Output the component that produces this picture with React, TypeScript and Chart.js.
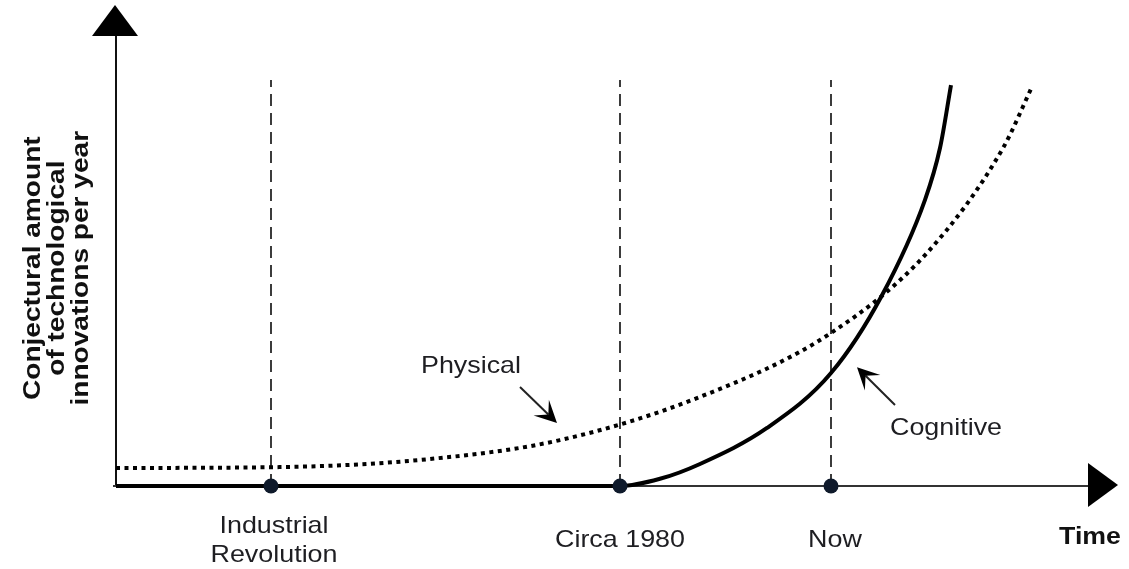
import React, { useEffect, useRef } from "react";
import { Chart, registerables } from "chart.js";

Chart.register(...registerables);

// ---- data (abstract units: x 0..100 = time, y 0..100 = innovations) ----
const milestoneLabels: string[][] = [["Industrial", "Revolution"], ["Circa 1980"], ["Now"]];
const milestoneX: number[] = [15.5, 50.4, 71.5];
const guideTop = 90.2;

const physicalX: number[] = [0, 16.4, 31.4, 44.4, 58.4, 71.5, 81.1, 88.7, 91.6];
const physicalY: number[] = [4.0, 4.2, 6.0, 10.2, 19.8, 34.0, 51.8, 75.1, 88.7];

const cognitiveX: number[] = [0, 50.4, 54.4, 58.4, 65.1, 71.5, 76.6, 80.9, 82.4, 83.5];
const cognitiveY: number[] = [0, 0, 1.6, 4.9, 12.9, 25.1, 42.4, 63.6, 75.1, 89.1];

const seriesNames: string[] = ["Physical", "Cognitive"];
const seriesLabelPos: number[][] = [[35.5, 25.2], [83.0, 11.3]];
const seriesArrowFrom: number[][] = [[40.4, 22.0], [77.9, 18.0]];
const seriesArrowTo: number[][] = [[44.1, 14.0], [74.1, 26.4]];

const xTitle = "Time";
const yTitleLines: string[] = ["Conjectural amount", "of technological", "innovations per year"];

const REG_FONT = '24px "Liberation Sans", Arial, sans-serif';
const BOLD_FONT = 'bold 24px "Liberation Sans", Arial, sans-serif';

function stretchText(ctx: CanvasRenderingContext2D, text: string, x: number, y: number, sx: number, rot = 0) {
  ctx.save();
  ctx.translate(x, y);
  if (rot) ctx.rotate(rot);
  ctx.scale(sx, 1);
  ctx.fillText(text, 0, 0);
  ctx.restore();
}

function arrowHead(ctx: CanvasRenderingContext2D, tx: number, ty: number, ang: number, len: number, half: number, notch: number) {
  ctx.save();
  ctx.translate(tx, ty);
  ctx.rotate(ang);
  ctx.beginPath();
  ctx.moveTo(0, 0);
  ctx.lineTo(-len, -half);
  ctx.lineTo(-len * notch, 0);
  ctx.lineTo(-len, half);
  ctx.closePath();
  ctx.fill();
  ctx.restore();
}

const decorPlugin = {
  id: "decor",
  beforeDatasetsDraw(chart: any) {
    const { ctx, chartArea } = chart;
    const { left, right, top, bottom } = chartArea;
    ctx.save();
    ctx.fillStyle = "#000";
    // y axis
    ctx.strokeStyle = "#111";
    ctx.lineWidth = 2;
    ctx.beginPath();
    ctx.moveTo(left, bottom + 1);
    ctx.lineTo(left, top);
    ctx.stroke();
    arrowHead(ctx, left - 1, top - 31, -Math.PI / 2, 31, 23, 1);
    // x axis
    ctx.strokeStyle = "#333";
    ctx.lineWidth = 2.2;
    ctx.beginPath();
    ctx.moveTo(left - 3, bottom);
    ctx.lineTo(right - 28, bottom);
    ctx.stroke();
    arrowHead(ctx, right + 2, bottom - 1, 0, 30, 22, 1);
    ctx.restore();
  },
  afterDatasetsDraw(chart: any) {
    const { ctx } = chart;
    const xs = chart.scales.x;
    const ys = chart.scales.y;
    const X = (v: number) => xs.getPixelForValue(v);
    const Y = (v: number) => ys.getPixelForValue(v);
    ctx.save();
    ctx.fillStyle = "#1e1e22";
    ctx.textAlign = "center";
    ctx.textBaseline = "alphabetic";
    // milestone labels
    ctx.font = REG_FONT;
    milestoneLabels.forEach((lines, i) => {
      const cx = X(milestoneX[i]) + (i === 0 ? 3 : i === 2 ? 4 : 0);
      const base = Y(0) + 61 - ((lines.length - 1) * 29) / 2;
      lines.forEach((t, j) => stretchText(ctx, t, cx, base + j * 29, 1.12));
    });
    // series labels and arrows
    seriesNames.forEach((n, i) => {
      ctx.font = REG_FONT;
      ctx.fillStyle = "#1e1e22";
      stretchText(ctx, n, X(seriesLabelPos[i][0]), Y(seriesLabelPos[i][1]), 1.12);
      const fx = X(seriesArrowFrom[i][0]);
      const fy = Y(seriesArrowFrom[i][1]);
      const tx = X(seriesArrowTo[i][0]);
      const ty = Y(seriesArrowTo[i][1]);
      const ang = Math.atan2(ty - fy, tx - fx);
      const len = 22;
      const nx = tx - Math.cos(ang) * len * 0.55;
      const ny = ty - Math.sin(ang) * len * 0.55;
      ctx.strokeStyle = "#222";
      ctx.lineWidth = 2;
      ctx.beginPath();
      ctx.moveTo(fx, fy);
      ctx.lineTo(nx, ny);
      ctx.stroke();
      ctx.fillStyle = "#000";
      arrowHead(ctx, tx, ty, ang, len, 11, 0.55);
    });
    // axis titles
    ctx.fillStyle = "#111";
    ctx.font = 'bold 23px "Liberation Sans", Arial, sans-serif';
    stretchText(ctx, xTitle, chart.chartArea.right - 26, Y(0) + 58, 1.16);
    ctx.font = BOLD_FONT;
    const left = chart.chartArea.left;
    const cy = Y(48.4);
    yTitleLines.forEach((t, j) => {
      stretchText(ctx, t, left - 76 + j * 24, cy, 1.17, -Math.PI / 2);
    });
    ctx.restore();
  },
};

export default function App() {
  const ref = useRef<HTMLCanvasElement | null>(null);
  useEffect(() => {
    if (!ref.current) return;
    const guideSets = milestoneX.map((m) => ({
      type: "line" as const,
      data: [{ x: m, y: 0 }, { x: m, y: guideTop }],
      borderColor: "#1a1a1a",
      borderWidth: 1.7,
      borderDash: [12, 7],
      pointRadius: 0,
      tension: 0,
      clip: false as any,
      order: 5,
    }));
    const chart = new Chart(ref.current, {
      type: "scatter",
      data: {
        datasets: [
          {
            data: milestoneX.map((m) => ({ x: m, y: 0 })),
            pointRadius: 7.5,
            pointBackgroundColor: "#0f1a2b",
            pointBorderWidth: 0,
            showLine: false,
            clip: false as any,
            order: 0,
          } as any,
          {
            type: "line",
            data: cognitiveX.map((x, i) => ({ x, y: cognitiveY[i] })),
            borderColor: "#000",
            borderWidth: 4,
            pointRadius: 0,
            cubicInterpolationMode: "monotone",
            clip: false as any,
            order: 1,
          } as any,
          {
            type: "line",
            data: physicalX.map((x, i) => ({ x, y: physicalY[i] })),
            borderColor: "#000",
            borderWidth: 4,
            borderDash: [4, 4.5],
            borderCapStyle: "butt",
            pointRadius: 0,
            cubicInterpolationMode: "monotone",
            clip: false as any,
            order: 2,
          } as any,
          ...guideSets,
        ],
      },
      options: {
        responsive: false,
        animation: false,
        events: [],
        layout: { padding: { left: 116, right: 13, top: 36, bottom: 83 } },
        scales: {
          x: { type: "linear", min: 0, max: 100, display: false },
          y: { type: "linear", min: 0, max: 100, display: false },
        },
        plugins: { legend: { display: false }, tooltip: { enabled: false }, title: { display: false } },
      },
      plugins: [decorPlugin],
    });
    return () => chart.destroy();
  }, []);
  return (
    <div style={{ position: "fixed", left: 0, top: 0, width: 1129, height: 569, background: "#fff" }}>
      <canvas ref={ref} width={1129} height={569} style={{ width: 1129, height: 569, display: "block" }} />
    </div>
  );
}
